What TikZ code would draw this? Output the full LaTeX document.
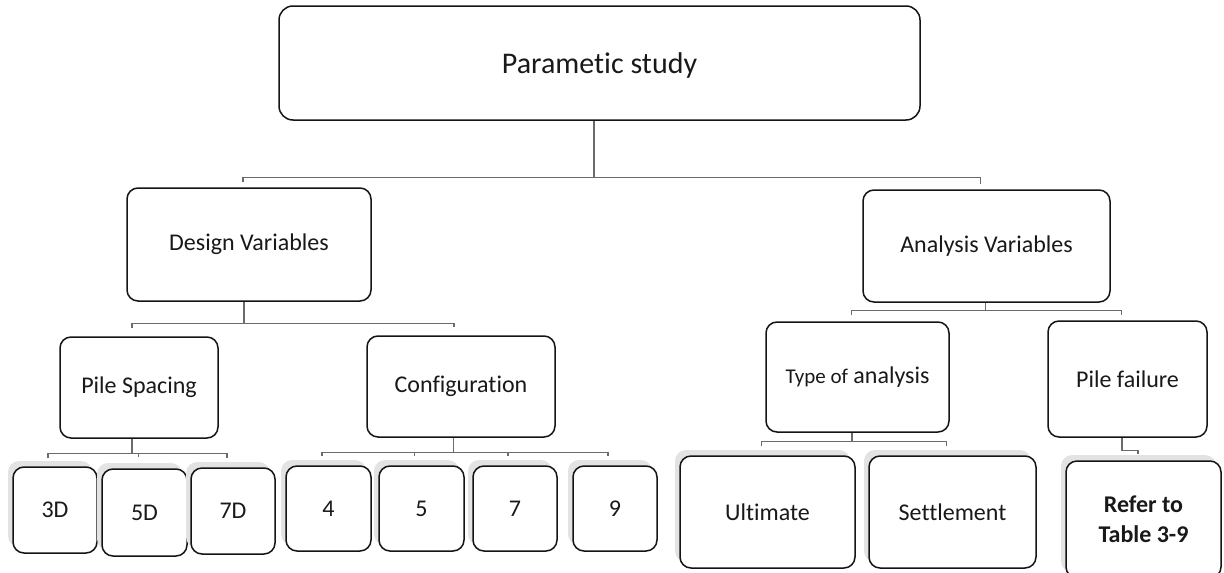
\documentclass[tikz,border=0pt]{standalone}
\usepackage{fontspec}
\setmainfont{Carlito}[Ligatures=NoCommon]
\usetikzlibrary{calc,shadows}
\begin{document}
\begin{tikzpicture}[x=1pt,y=-1pt,
  box/.style={draw=black!92, line width=1.5pt, rounded corners=11pt, fill=white,
    inner sep=0pt, align=center, text=black!90, font=\fontsize{24}{30}\selectfont},
  leaf/.style={box, general shadow={fill=black!11, shadow xshift=-5pt, shadow yshift=6pt}},
  conn/.style={draw=black!58, line width=1.3pt},
]
\useasboundingbox (0,0) rectangle (1224,573);

% root
\node[box, rounded corners=14pt, minimum width=641pt, minimum height=114pt,
      text depth=-4pt, font=\fontsize{30}{36}\selectfont] (top) at (599.5,63) {Parametic study};

% second level
\node[box, minimum width=244pt, minimum height=113pt] (dv) at (249,244.5) {Design Variables};
\node[box, minimum width=247pt, minimum height=112pt] (av) at (986.5,246) {Analysis Variables};

% third level
\node[box, minimum width=158pt, minimum height=101pt] (ps) at (139,387.5) {Pile Spacing};
\node[box, minimum width=188pt, minimum height=101pt] (cf) at (461,386.5) {Configuration};
\node[box, minimum width=183pt, minimum height=110pt] (ta) at (857.5,377)
     {{\fontsize{21}{25}\selectfont Type of} analysis};
\node[box, minimum width=159pt, minimum height=116pt] (pf) at (1127.5,379) {Pile failure};

% leaves
\node[leaf, minimum width=84pt, minimum height=86pt] (d3) at (55,510) {3D};
\node[leaf, minimum width=85pt, minimum height=87pt] (d5) at (144.5,512.5) {5D};
\node[leaf, minimum width=84pt, minimum height=86pt] (d7) at (233,511) {7D};
\node[leaf, minimum width=85pt, minimum height=85pt] (c4) at (328.5,508.5) {4};
\node[leaf, minimum width=85pt, minimum height=85pt] (c5) at (421.5,508.5) {5};
\node[leaf, minimum width=84pt, minimum height=85pt] (c7) at (515,508.5) {7};
\node[leaf, minimum width=84pt, minimum height=85pt] (c9) at (615,508.5) {9};
\node[leaf, minimum width=175pt, minimum height=112pt] (ul) at (767.5,512) {Ultimate};
\node[leaf, minimum width=167pt, minimum height=112pt] (st) at (952.5,512) {Settlement};
\node[leaf, minimum width=155pt, minimum height=117pt, font=\bfseries\fontsize{24}{30}\selectfont]
     (rf) at (1143.5,519.5) {Refer to\\Table 3-9};

% connectors
\draw[conn] ($(top.south)+(-5.5,0)$) -- ++(0,57) coordinate (jt);
\draw[conn] ($(dv.north)+(-6,-5)$) |- (jt) -| ($(av.north)+(-6,-5)$);

\draw[conn] ($(dv.south)+(-5,0)$) -- ++(0,22) coordinate (jd);
\draw[conn] ($(ps.north)+(-7,-8)$) |- (jd) -| ($(cf.north)+(-7,-8)$);

\draw[conn] ($(av.south)+(-1,0)$) -- ++(0,8) coordinate (ja);
\draw[conn] ($(ta.north)+(-6,-6)$) |- (ja) -| ($(pf.north)+(-6,-5)$);

\draw[conn] ($(ps.south)+(-7,0)$) -- ++(0,15) coordinate (jp);
\draw[conn] ($(d3.north)+(-7,-8)$) |- (jp) -| ($(d7.north)+(-6,-9)$);
\draw[conn] ($(d5.north)+(-6,-11)$) |- (jp);

\draw[conn] ($(cf.south)+(-7.5,0)$) -- ++(0,15) coordinate (jc);
\draw[conn] ($(c4.north)+(-6.5,-9)$) |- (jc) -| ($(c9.north)+(-7,-9)$);
\draw[conn] ($(c5.north)+(-7,-9)$) |- (jc);
\draw[conn] ($(c7.north)+(-7,-9)$) |- (jc);

\draw[conn] ($(ta.south)+(-5.5,0)$) -- ++(0,9) coordinate (jy);
\draw[conn] ($(ul.north)+(-6,-9)$) |- (jy) -| ($(st.north)+(-6,-9)$);

\draw[conn] ($(pf.south)+(-5.5,0)$) -- ++(0,13) -| ($(rf.north)+(-5.5,-6)$);
\end{tikzpicture}
\end{document}
